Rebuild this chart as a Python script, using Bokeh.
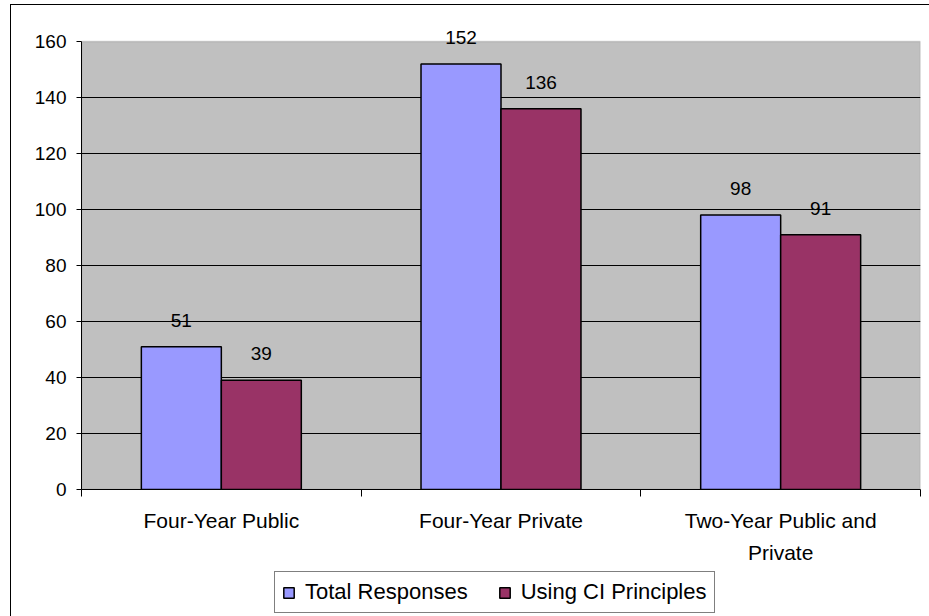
from bokeh.plotting import figure
from bokeh.layouts import column
from bokeh.models import (Range1d, FixedTicker, Legend, LegendItem, ColumnDataSource,
                          BoxAnnotation)
from bokeh.core.properties import value
from bokeh.embed import file_html
from bokeh.resources import INLINE

categories = ["Four-Year Public", "Four-Year Private", "Two-Year Public and\nPrivate"]
total_responses = [51, 152, 98]
using_ci = [39, 136, 91]
series_names = ["Total Responses", "Using CI Principles"]
series_colors = ["#9999FF", "#993366"]
y_ticks = [0, 20, 40, 60, 80, 100, 120, 140, 160]

FONT = "Liberation Sans"
Y_MAX = 160
PX_PER_UNIT = 2.8          # 448 px for 0..160
FRAME_H = 484

p = figure(width=919, height=564,
           output_backend="svg", toolbar_location=None,
           x_range=Range1d(0, len(categories)),
           y_range=Range1d(0, FRAME_H / PX_PER_UNIT),
           min_border_left=70, min_border_right=10, min_border_top=0,
           min_border_bottom=80)
p.background_fill_color = "white"
p.border_fill_color = "white"
p.outline_line_color = None

# gray plot area (0..160)
plot_area = BoxAnnotation(bottom=0, top=Y_MAX, fill_color="#C0C0C0", fill_alpha=1,
                          line_color="#808080", line_width=1.5, level="image")
p.add_layout(plot_area)

# bars
offset = 0.143
bw = 0.286
centers = [i + 0.5 for i in range(len(categories))]
for k, vals in enumerate([total_responses, using_ci]):
    xs = [c + (2 * k - 1) * offset for c in centers]
    src = ColumnDataSource(dict(x=xs, top=vals, lab=[str(v) for v in vals]))
    p.vbar(x="x", top="top", width=bw, bottom=0, source=src,
           fill_color=series_colors[k], line_color="black", line_width=1.5)
    p.text(x="x", y="top", text="lab", source=src, text_align="center",
           text_baseline="bottom", y_offset=-20, text_font=value(FONT),
           text_font_size="19px", text_color="black")

# grid
p.xgrid.visible = False
p.ygrid.grid_line_color = "black"
p.ygrid.grid_line_width = 1
p.ygrid.ticker = FixedTicker(ticks=y_ticks[:-1])

yax = p.yaxis[0]
yax.ticker = FixedTicker(ticks=y_ticks)
yax.bounds = (0, Y_MAX)
yax.axis_line_color = "black"
yax.major_tick_out = 5
yax.major_tick_in = 0
yax.minor_tick_line_color = None
yax.major_label_standoff = 10
yax.major_label_text_font = FONT
yax.major_label_text_font_size = "19px"
yax.major_label_text_color = "black"

xax = p.xaxis[0]
xax.ticker = FixedTicker(ticks=centers, minor_ticks=list(range(len(categories) + 1)))
xax.major_label_overrides = {c: lab for c, lab in zip(centers, categories)}
xax.axis_line_color = "black"
xax.major_tick_line_color = None
xax.major_tick_out = 0
xax.major_tick_in = 0
xax.minor_tick_line_color = "black"
xax.minor_tick_out = 7
xax.minor_tick_in = 0
xax.major_label_standoff = 12
xax.major_label_text_font = FONT
xax.major_label_text_font_size = "21px"
xax.major_label_text_line_height = 1.4
xax.major_label_text_color = "black"
xax.major_label_orientation = "horizontal"

# legend in a separate strip below the chart; its swatch renderers are tiny
# helper bars hidden behind the opaque legend box
pl = figure(width=919, height=48, output_backend="svg", toolbar_location=None,
            x_axis_type=None, y_axis_type=None, min_border=0,
            x_range=Range1d(0, 1), y_range=Range1d(0, 1))
pl.outline_line_color = None
pl.background_fill_color = "white"
pl.border_fill_color = "white"
pl.xgrid.visible = False
pl.ygrid.visible = False
leg_renderers = []
for k in range(2):
    leg_renderers.append(pl.vbar(x=[0.45], top=[0.55], bottom=0.45, width=0.005,
                                 fill_color=series_colors[k],
                                 line_color="black", line_width=1.5))
legend = Legend(items=[LegendItem(label=series_names[i], renderers=[leg_renderers[i]])
                       for i in range(2)],
                orientation="horizontal", location=(193, 4),
                label_text_font=FONT, label_text_font_size="22px",
                label_text_color="black",
                glyph_width=13, glyph_height=13, label_standoff=10, spacing=30,
                padding=7, margin=0,
                border_line_color="black", border_line_width=1,
                background_fill_color="white", background_fill_alpha=1)
pl.add_layout(legend, "center")

layout = column(p, pl, spacing=0, margin=(4, 0, 0, 10),
                styles={"border-left": "1px solid black", "border-top": "1px solid black"})

open("out.html", "w").write(file_html(layout, INLINE))
